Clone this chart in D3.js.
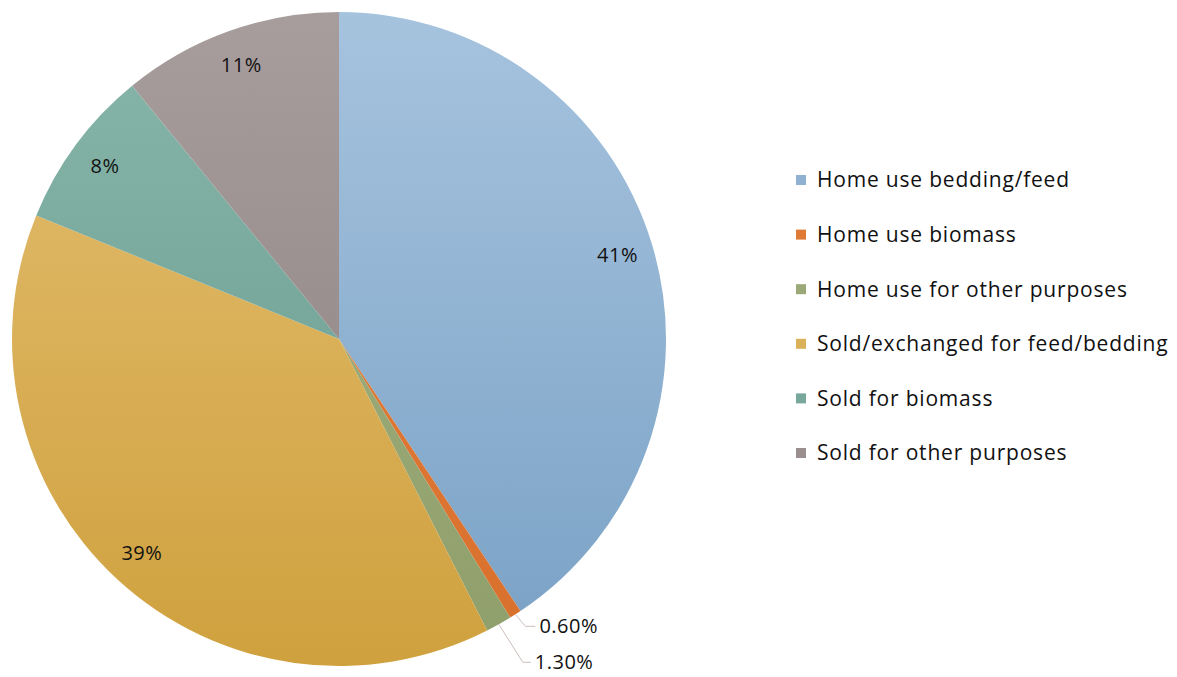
<!DOCTYPE html>
<html>
<head>
<meta charset="utf-8">
<script src="https://cdn.jsdelivr.net/npm/d3@7"></script>
<style>
  body { margin: 0; background: #fff; }
  svg { display: block; font-family: "Open Sans", "Noto Sans", sans-serif; }
</style>
</head>
<body>
<svg id="chart" width="1177" height="677"></svg>
<script>
// data
const categories = ["Home use bedding/feed", "Home use biomass", "Home use for other purposes",
  "Sold/exchanged for feed/bedding", "Sold for biomass", "Sold for other purposes"];
const values = [41, 0.6, 1.3, 39, 8, 11];
const labels = ["41%", "0.60%", "1.30%", "39%", "8%", "11%"];
// gradient top / bottom per slice
const colorsTop = ["#a6c3de", "#e5813f", "#a4b383", "#e4be72", "#88b6aa", "#a89d9d"];
const colorsBottom = ["#79a1c5", "#d8702d", "#8f9f6b", "#cfa13e", "#66998b", "#8b7f7f"];

const svg = d3.select("#chart");
const cx = 339, cy = 339, R = 327;

// vertical gradient across the whole pie, in the group's coords
const defs = svg.append("defs");
categories.forEach((c, i) => {
  const gr = defs.append("linearGradient")
    .attr("id", "grad" + i)
    .attr("gradientUnits", "userSpaceOnUse")
    .attr("x1", 0).attr("y1", -R).attr("x2", 0).attr("y2", R);
  gr.append("stop").attr("offset", "0%").attr("stop-color", colorsTop[i]);
  gr.append("stop").attr("offset", "100%").attr("stop-color", colorsBottom[i]);
});

const pie = d3.pie().sort(null).value(d => d);
const arcs = pie(values);
const arc = d3.arc().innerRadius(0).outerRadius(R);
const labelArc = d3.arc().innerRadius(R * 0.89).outerRadius(R * 0.89);
const edgeArc = d3.arc().innerRadius(R).outerRadius(R);

const g = svg.append("g").attr("transform", `translate(${cx},${cy})`);

g.selectAll("path.slice")
  .data(arcs)
  .enter().append("path")
  .attr("class", "slice")
  .attr("d", arc)
  .attr("fill", (d, i) => `url(#grad${i})`);

// big slice labels
const big = arcs.filter(d => d.data >= 5);
g.selectAll("text.big")
  .data(big)
  .enter().append("text")
  .attr("class", "big")
  .attr("transform", d => `translate(${labelArc.centroid(d)})`)
  .attr("text-anchor", "middle")
  .attr("dy", "0.35em")
  .style("font-size", "20px")
  .style("letter-spacing", "0.5px")
  .attr("fill", "#111")
  .text(d => labels[d.index]);

// small slices with leader lines
const smallOffsets = { 1: [[10, 12], [20, 12]], 2: [[24, 38], [32, 38]] };
const small = arcs.filter(d => d.data < 5);
small.forEach(d => {
  const p0 = edgeArc.centroid(d);
  const [o1, o2] = smallOffsets[d.index];
  const p1 = [p0[0] + o1[0], p0[1] + o1[1]];
  const p2 = [p0[0] + o2[0], p0[1] + o2[1]];
  g.append("polyline")
    .attr("points", [p0, p1, p2].map(p => p.join(",")).join(" "))
    .attr("fill", "none")
    .attr("stroke", "#cbbfba")
    .attr("stroke-width", 1);
  g.append("text")
    .attr("x", p2[0] + 4).attr("y", p2[1])
    .attr("dy", "0.35em")
    .style("font-size", "20px")
    .style("letter-spacing", "0.5px")
    .attr("fill", "#111")
    .text(labels[d.index]);
});

// legend
const legend = svg.append("g").attr("transform", "translate(796,180)");
const items = legend.selectAll("g")
  .data(categories)
  .enter().append("g")
  .attr("transform", (d, i) => `translate(0,${i * 54.6})`);
items.append("rect")
  .attr("x", 0).attr("y", -5).attr("width", 10).attr("height", 10)
  .attr("fill", (d, i) => d3.interpolateRgb(colorsTop[i], colorsBottom[i])(0.5));
items.append("text")
  .attr("x", 21).attr("dy", "0.35em")
  .style("font-size", "21px")
  .style("letter-spacing", "0.8px")
  .attr("fill", "#111")
  .text(d => d);
</script>
</body>
</html>
